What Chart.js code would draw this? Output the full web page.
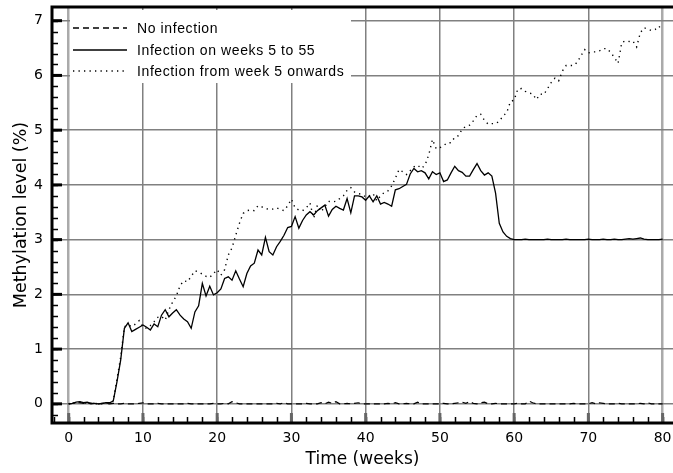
<!DOCTYPE html>
<html>
<head>
<meta charset="utf-8">
<script src="https://cdn.jsdelivr.net/npm/chart.js@4.4.1/dist/chart.umd.min.js"></script>
<style>
  html, body { margin: 0; padding: 0; background: #fff; overflow: hidden; }
  #wrap { width: 673px; height: 473px; position: relative; }
</style>
</head>
<body>
<div id="wrap"><canvas id="chart" width="673" height="473"></canvas></div>
<script>
// sampled every half week, weeks 0 .. 80
const weekStep = 0.5;
const xTicks = [0, 10, 20, 30, 40, 50, 60, 70, 80];
const yTicks = [0, 1, 2, 3, 4, 5, 6, 7];
const seriesNames = ['No infection', 'Infection on weeks 5 to 55', 'Infection from week 5 onwards'];

const noInfection = [
  0, 0.01, 0.03, 0.02, 0.01, 0.02, 0, 0.01, 0, 0.01,
  0.01, 0, 0.01, 0, 0, 0.01, 0, 0, 0, 0.01,
  0.02, 0, 0, 0, 0.01, 0, 0, 0, 0, 0,
  0, 0, 0.01, 0, 0, 0, 0, 0, 0, 0.01,
  0, 0, 0.01, 0, 0.04, 0.02, 0, 0, 0, 0,
  0, 0, 0, 0, 0, 0, 0.01, 0, 0.02, 0,
  0, 0, 0, 0, 0.01, 0, 0, 0, 0.02, 0,
  0.03, 0.01, 0.04, 0, 0, 0.01, 0, 0.01, 0.02, 0,
  0, 0, 0, 0, 0, 0, 0.01, 0, 0.02, 0,
  0, 0.01, 0, 0, 0.03, 0, 0, 0, 0, 0,
  0, 0.01, 0, 0, 0.01, 0.02, 0.03, 0.01, 0.04, 0.01,
  0, 0.02, 0.03, 0, 0, 0.01, 0, 0, 0, 0,
  0, 0.01, 0, 0, 0.05, 0.02, 0, 0, 0, 0,
  0, 0, 0, 0, 0, 0, 0.01, 0, 0, 0,
  0, 0.02, 0, 0.02, 0.01, 0, 0, 0, 0.01, 0,
  0, 0, 0, 0, 0.01, 0, 0.02, 0, 0, 0,
  0
];

const infection5to55 = [
  0, 0.01, 0.03, 0.04, 0.02, 0.03, 0.01, 0.01, 0, 0.01,
  0.02, 0.02, 0.05, 0.4, 0.8, 1.38, 1.48, 1.32, 1.36, 1.40,
  1.44, 1.40, 1.35, 1.46, 1.41, 1.62, 1.72, 1.59, 1.66, 1.72,
  1.62, 1.55, 1.50, 1.38, 1.68, 1.79, 2.20, 1.97, 2.15, 1.99,
  2.03, 2.10, 2.29, 2.32, 2.26, 2.43, 2.28, 2.14, 2.38, 2.52,
  2.57, 2.81, 2.72, 3.04, 2.78, 2.72, 2.87, 2.97, 3.08, 3.22,
  3.24, 3.42, 3.21, 3.35, 3.45, 3.51, 3.45, 3.53, 3.58, 3.63,
  3.43, 3.55, 3.61, 3.57, 3.54, 3.75, 3.49, 3.80, 3.80, 3.78,
  3.72, 3.80, 3.69, 3.80, 3.65, 3.68, 3.65, 3.61, 3.91, 3.93,
  3.97, 4.01, 4.20, 4.30, 4.24, 4.26, 4.22, 4.11, 4.24, 4.19,
  4.22, 4.06, 4.09, 4.22, 4.34, 4.26, 4.23, 4.16, 4.16, 4.28,
  4.39, 4.26, 4.18, 4.22, 4.16, 3.85, 3.30, 3.14, 3.06, 3.02,
  3.00, 3.00, 3.00, 3.01, 3.00, 3.00, 3.00, 3.00, 3.00, 3.01,
  3.00, 3.00, 3.00, 3.00, 3.01, 3.00, 3.00, 3.00, 3.00, 3.00,
  3.01, 3.00, 3.00, 3.00, 3.01, 3.00, 3.00, 3.01, 3.00, 3.00,
  3.01, 3.02, 3.01, 3.02, 3.03, 3.01, 3.00, 3.00, 3.00, 3.00,
  3.01
];

const infectionOnwards = [
  0, 0.02, 0.02, 0.03, 0.01, 0.02, 0.01, 0, 0.01, 0,
  0.01, 0.02, 0.05, 0.45, 0.85, 1.41, 1.44, 1.41, 1.46, 1.52,
  1.40, 1.38, 1.43, 1.50, 1.58, 1.60, 1.53, 1.72, 1.86, 1.97,
  2.16, 2.25, 2.23, 2.33, 2.43, 2.41, 2.37, 2.33, 2.31, 2.38,
  2.45, 2.35, 2.45, 2.72, 2.85, 3.08, 3.30, 3.48, 3.53, 3.54,
  3.53, 3.62, 3.60, 3.57, 3.55, 3.56, 3.58, 3.55, 3.53, 3.62,
  3.74, 3.58, 3.54, 3.53, 3.58, 3.67, 3.39, 3.63, 3.51, 3.60,
  3.70, 3.69, 3.70, 3.75, 3.80, 3.90, 3.95, 3.87, 3.84, 3.83,
  3.78, 3.80, 3.84, 3.71, 3.80, 3.86, 3.89, 3.98, 4.12, 4.28,
  4.24, 4.19, 4.26, 4.33, 4.36, 4.30, 4.36, 4.55, 4.83, 4.66,
  4.68, 4.72, 4.77, 4.77, 4.87, 4.90, 5.02, 5.07, 5.09, 5.17,
  5.27, 5.29, 5.18, 5.11, 5.12, 5.12, 5.16, 5.26, 5.32, 5.52,
  5.55, 5.75, 5.76, 5.71, 5.68, 5.66, 5.56, 5.66, 5.65, 5.76,
  5.87, 5.95, 5.90, 6.08, 6.18, 6.18, 6.18, 6.24, 6.36, 6.47,
  6.41, 6.43, 6.43, 6.45, 6.49, 6.49, 6.42, 6.33, 6.22, 6.60,
  6.63, 6.62, 6.63, 6.52, 6.78, 6.87, 6.85, 6.82, 6.84, 6.90,
  6.82
];

function toPoints(values) {
    return values.map((v, i) => ({ x: i * weekStep, y: v }));
}

const dashStyles = [[6, 4], [], [1.3, 4.2]];

// white legend box, axes frame and tick marks drawn on top of the grid
const framePlugin = {
    id: 'frame',
    beforeDatasetsDraw(chart) {
        const ctx = chart.ctx;
        ctx.save();
        ctx.fillStyle = '#ffffff';
        ctx.fillRect(70, 10, 281, 73);
        ctx.strokeStyle = '#000';
        ctx.fillStyle = '#000';
        ctx.font = '14px "Liberation Sans"';
        ctx.textBaseline = 'middle';
        const rows = [28, 50, 71];
        seriesNames.forEach((name, i) => {
            ctx.beginPath();
            ctx.setLineDash(dashStyles[i]);
            ctx.lineWidth = 1.3;
            ctx.moveTo(73, rows[i]);
            ctx.lineTo(127, rows[i]);
            ctx.stroke();
            ctx.setLineDash([]);
            ctx.letterSpacing = '0.6px';
            ctx.fillText(name, 137, rows[i] + 1);
        });
        ctx.restore();
    },
    afterDraw(chart) {
        const ctx = chart.ctx;
        const a = chart.chartArea;
        const xs = chart.scales.x, ys = chart.scales.y;
        ctx.save();
        ctx.setLineDash([]);
        // minor y ticks
        ctx.strokeStyle = '#000';
        for (let v = -0.2; v <= 7.2; v += 0.2) {
            const p = Math.round(ys.getPixelForValue(v)) + 0.5;
            ctx.lineWidth = 1.5;
            ctx.beginPath(); ctx.moveTo(a.left, p); ctx.lineTo(a.left + 6, p); ctx.stroke();
        }
        yTicks.forEach(v => {
            const p = ys.getPixelForValue(v);
            ctx.lineWidth = 3;
            ctx.beginPath(); ctx.moveTo(a.left, p); ctx.lineTo(a.left + 10, p); ctx.stroke();
        });
        // minor x ticks
        for (let v = -2; v <= 81; v += 2) {
            const p = Math.round(xs.getPixelForValue(v)) + 0.5;
            ctx.lineWidth = 1.5;
            ctx.beginPath(); ctx.moveTo(p, a.bottom); ctx.lineTo(p, a.bottom - 6); ctx.stroke();
        }
        ctx.strokeStyle = '#666';
        xTicks.forEach(v => {
            const p = xs.getPixelForValue(v);
            ctx.lineWidth = 3;
            ctx.beginPath(); ctx.moveTo(p, a.bottom); ctx.lineTo(p, a.bottom - 10); ctx.stroke();
        });
        // frame: left, bottom, top
        ctx.strokeStyle = '#000';
        ctx.lineWidth = 3;
        ctx.beginPath();
        ctx.moveTo(a.right + 2, a.top);
        ctx.lineTo(a.left, a.top);
        ctx.lineTo(a.left, a.bottom);
        ctx.lineTo(a.right + 2, a.bottom);
        ctx.stroke();
        ctx.restore();
    }
};

const ctx = document.getElementById('chart');
new Chart(ctx, {
    type: 'line',
    data: {
        datasets: [
            {
                label: seriesNames[2],
                data: toPoints(infectionOnwards),
                borderColor: '#000',
                borderWidth: 1.4,
                borderDash: dashStyles[2],
                pointRadius: 0,
                tension: 0
            },
            {
                label: seriesNames[1],
                data: toPoints(infection5to55),
                borderColor: '#000',
                borderWidth: 1.3,
                pointRadius: 0,
                tension: 0
            },
            {
                label: seriesNames[0],
                data: toPoints(noInfection),
                borderColor: '#000',
                borderWidth: 1.2,
                borderDash: dashStyles[0],
                pointRadius: 0,
                tension: 0
            }
        ]
    },
    options: {
        responsive: false,
        animation: false,
        layout: { padding: { top: 7, right: 0, left: 0, bottom: 0 } },
        plugins: {
            legend: { display: false },
            tooltip: { enabled: false }
        },
        scales: {
            x: {
                type: 'linear',
                min: -2.25,
                max: 81.4,
                afterBuildTicks: s => { s.ticks = xTicks.map(v => ({ value: v })); },
                afterFit: s => { s.height = 50; s.paddingLeft = 0; s.paddingRight = 0; },
                ticks: {
                    color: '#000',
                    padding: 7,
                    maxRotation: 0,
                    font: { family: 'DejaVu Sans', size: 14 }
                },
                grid: {
                    color: c => (c.tick && (c.tick.value === 0 || c.tick.value === 80)) ? '#aaaaaa' : '#808080',
                    lineWidth: c => (c.tick && (c.tick.value === 0 || c.tick.value === 80)) ? 2.5 : 1.5,
                    drawTicks: false
                },
                border: { display: false },
                title: {
                    display: true,
                    text: 'Time (weeks)',
                    color: '#000',
                    padding: { top: 0, bottom: 3 },
                    font: { family: 'DejaVu Sans', size: 17 }
                }
            },
            y: {
                min: -0.35,
                max: 7.25,
                afterBuildTicks: s => { s.ticks = yTicks.map(v => ({ value: v })); },
                afterFit: s => { s.width = 52; s.paddingTop = 0; s.paddingBottom = 0; },
                ticks: {
                    color: '#000',
                    padding: 9,
                    font: { family: 'DejaVu Sans', size: 14 }
                },
                grid: {
                    color: '#808080',
                    lineWidth: 1.5,
                    drawTicks: false
                },
                border: { display: false },
                title: {
                    display: true,
                    text: 'Methylation level (%)',
                    color: '#000',
                    padding: { top: 11, bottom: 0 },
                    font: { family: 'DejaVu Sans', size: 17.5 }
                }
            }
        }
    },
    plugins: [framePlugin]
});
</script>
</body>
</html>
